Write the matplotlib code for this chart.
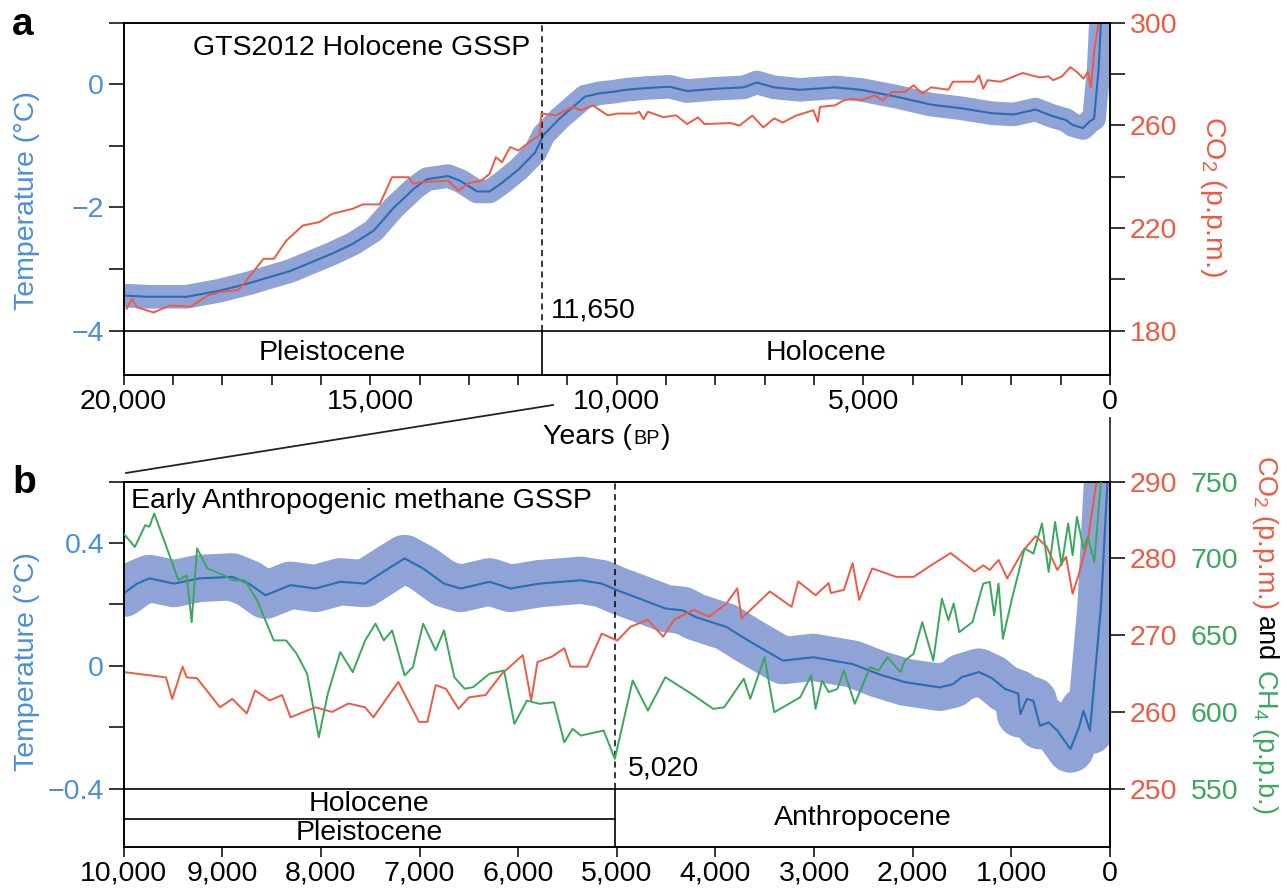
import numpy as np
import matplotlib.pyplot as plt
from matplotlib.lines import Line2D

plt.rcParams['font.family'] = ['Liberation Sans', 'DejaVu Sans']
plt.rcParams['mathtext.default'] = 'regular'

# ---------------- panel a: last 20,000 years ----------------
yrs_temp_a = [20000, 19500, 18721, 18046, 17458, 16616, 15775, 15350, 14935, 14518,
              14092, 13848, 13423, 13167, 12835, 12579, 12328, 11989, 11659, 11484,
              11152, 10645, 10341, 10057, 9816, 9400, 8928, 8577, 8050, 7427,
              7162, 6813, 6286, 5576, 5049, 4339, 3629, 3011, 2393, 1951,
              1511, 1156, 892, 760, 548, 406, 324, 229, 187, 100]
temp_a = [-3.43, -3.45, -3.45, -3.35, -3.23, -3.03, -2.75, -2.59, -2.38, -2.0,
          -1.68, -1.54, -1.49, -1.57, -1.74, -1.74, -1.60, -1.38, -1.11, -0.82,
          -0.55, -0.20, -0.145, -0.12, -0.09, -0.06, -0.04, -0.11, -0.075, -0.05,
          0.03, -0.05, -0.09, -0.05, -0.09, -0.20, -0.33, -0.39, -0.47, -0.49,
          -0.41, -0.52, -0.58, -0.66, -0.71, -0.60, -0.56, 0.26, 0.97, 1.6]

yrs_co2_a = [19939, 19830, 19728, 19393, 19059, 18635, 18298, 18046, 17668, 17458,
             17164, 16953, 16701, 16363, 16028, 15775, 15355, 15146, 14807, 14558,
             14220, 14135, 14011, 13423, 13210, 12999, 12747, 12579, 12452, 12328,
             12165, 11989, 11821, 11570, 11527, 11233, 10896, 10726, 10483, 10341,
             10180, 9988, 9635, 9546, 9457, 9370, 9059, 8796, 8575, 8354,
             8222, 7691, 7515, 7251, 7030, 6809, 6633, 6367, 6014, 5925,
             5880, 5572, 5395, 5219, 5042, 4777, 4603, 4424, 4159, 3982,
             3806, 3629, 3277, 3187, 2745, 2656, 2569, 2482, 2216, 1774,
             1598, 1421, 1245, 1156, 979, 803, 669, 537, 450, 387,
             318, 229, 100]
co2_a = [188.5, 192.4, 189.1, 187.1, 189.8, 189.4, 193.7, 195.0, 195.9, 200.8,
         208.0, 208.0, 215.1, 221.0, 222.3, 225.5, 227.5, 229.2, 229.2, 239.8,
         239.8, 237.2, 237.8, 238.5, 234.6, 237.5, 238.5, 241.1, 247.6, 245.6,
         251.5, 250.2, 252.8, 256.1, 264.6, 263.9, 267.2, 265.9, 267.8, 265.9,
         263.9, 264.6, 264.6, 265.3, 262.4, 265.3, 263.2, 263.9, 260.5, 263.1,
         260.5, 260.9, 259.9, 263.8, 259.2, 262.7, 261.1, 263.8, 265.9, 261.4,
         267.2, 267.8, 269.8, 270.4, 269.8, 271.7, 269.8, 273.0, 273.0, 275.6,
         272.4, 274.8, 273.9, 277.0, 277.0, 279.5, 274.3, 277.6, 277.0, 280.4,
         279.5, 278.7, 279.1, 277.6, 279.0, 282.7, 280.8, 278.2, 280.8, 274.8,
         289.3, 300.0, 330.0]

boundary_a = 11520
label_a = '11,650'

# ---------------- panel b: last 10,000 years ----------------
yrs_temp_b = [10000, 9864, 9739, 9487, 9234, 8898, 8730, 8562, 8309, 8056,
              7804, 7553, 7341, 7151, 6963, 6752, 6583, 6289, 6079, 5785,
              5364, 5153, 4994, 4728, 4508, 4331, 4199, 3890, 3670, 3493,
              3316, 3007, 2609, 2345, 2079, 1727, 1594, 1505, 1329, 1196,
              1065, 932, 909, 843, 777, 710, 622, 534, 401, 314,
              269, 203, 92, 26, 0]
temp_b = [0.236, 0.268, 0.285, 0.268, 0.285, 0.29, 0.268, 0.23, 0.263, 0.252,
          0.274, 0.268, 0.312, 0.35, 0.317, 0.268, 0.252, 0.274, 0.252, 0.268,
          0.279, 0.268, 0.246, 0.214, 0.187, 0.181, 0.159, 0.127, 0.083, 0.05,
          0.017, 0.028, 0.006, -0.027, -0.053, -0.07, -0.06, -0.037, -0.02, -0.04,
          -0.075, -0.09, -0.157, -0.108, -0.114, -0.195, -0.184, -0.211, -0.271, -0.2,
          -0.146, -0.211, 0.192, 0.6, 0.75]

yrs_co2_b = [10000, 9570, 9507, 9402, 9360, 9256, 9023, 8898, 8751, 8667,
             8519, 8393, 8308, 8056, 7887, 7720, 7552, 7468, 7215, 7005,
             6920, 6836, 6731, 6605, 6499, 6331, 6163, 5953, 5868, 5804,
             5658, 5532, 5469, 5301, 5153, 4994, 4861, 4685, 4530, 4420,
             4221, 4066, 3890, 3779, 3735, 3448, 3228, 3161, 2985, 2852,
             2830, 2698, 2609, 2543, 2411, 2168, 1991, 1815, 1616, 1373,
             1285, 1219, 1130, 1042, 887, 755, 645, 534, 446, 379,
             313, 225, 137, 0]
co2_b = [265.2, 264.5, 261.7, 265.9, 264.5, 264.4, 260.6, 261.7, 259.8, 262.8,
         261.5, 262.2, 259.3, 260.6, 260.0, 261.1, 260.6, 259.3, 263.9, 258.7,
         258.7, 263.5, 263.0, 260.4, 261.9, 262.2, 265.0, 267.4, 261.5, 266.5,
         267.2, 268.3, 265.9, 265.9, 270.2, 269.3, 271.1, 272.0, 269.8, 272.0,
         273.3, 272.4, 274.1, 276.1, 272.2, 275.7, 273.7, 277.0, 275.2, 276.8,
         275.5, 275.9, 279.4, 274.6, 278.7, 277.6, 277.6, 279.1, 280.7, 278.3,
         279.1, 278.5, 279.8, 277.4, 280.9, 282.9, 281.6, 278.5, 280.2, 275.4,
         278.1, 282.4, 290.0, 305.0]

yrs_ch4_b = [10000, 9886, 9781, 9739, 9689, 9529, 9445, 9360, 9310, 9255,
             9150, 8981, 8898, 8771, 8646, 8478, 8352, 8246, 8140, 8021,
             7930, 7803, 7677, 7551, 7446, 7362, 7278, 7151, 7067, 6963,
             6836, 6752, 6647, 6542, 6458, 6290, 6143, 6038, 5911, 5785,
             5637, 5532, 5448, 5364, 5133, 5020, 4839, 4685, 4508, 4243,
             4023, 3912, 3713, 3647, 3502, 3404, 3140, 3029, 2985, 2919,
             2852, 2764, 2698, 2587, 2433, 2345, 2256, 2124, 2079, 1991,
             1903, 1792, 1704, 1638, 1585, 1528, 1395, 1285, 1219, 1174,
             1130, 1086, 998, 866, 777, 689, 622, 557, 490, 424,
             379, 335, 269, 225, 159, 92, 0]
ch4_b = [716.2, 707.5, 721.7, 720.6, 729.3, 701.0, 685.8, 689.0, 658.5, 706.5,
         693.4, 689.0, 685.8, 685.8, 672.7, 646.6, 646.6, 637.9, 624.9, 583.5,
         611.8, 639.0, 625.9, 646.6, 657.5, 646.6, 653.1, 623.8, 629.2, 657.5,
         640.1, 653.1, 622.6, 615.1, 616.1, 624.9, 627.0, 592.2, 607.4, 605.3,
         606.3, 580.2, 589.0, 584.6, 587.9, 569.4, 620.5, 600.9, 622.6, 611.8,
         602.0, 603.0, 621.6, 608.6, 635.7, 599.8, 609.6, 623.8, 602.0, 620.5,
         612.9, 615.0, 627.0, 605.3, 629.2, 627.0, 635.7, 625.9, 633.5, 637.9,
         658.5, 633.5, 673.8, 659.7, 670.6, 652.0, 658.5, 683.6, 684.7, 662.9,
         683.6, 647.7, 672.7, 706.5, 703.2, 722.8, 691.2, 723.8, 695.6, 722.8,
         702.1, 727.1, 706.5, 714.0, 697.7, 750.0, 850.0]

boundary_b = 5020
label_b = '5,020'

# colours
BLUE_TXT = '#4a8fd8'
BLUE = '#2b6cb5'
BAND = '#8fa3d6'
RED = '#ee5a43'
GREEN = '#3aa85c'
FS = 20.5

W, H = 1283, 889
fig = plt.figure(figsize=(W / 100, H / 100), dpi=100)


def fx(px):
    return px / W


def fy(py):
    return 1 - py / H


def style_axes(ax):
    for s in ax.spines.values():
        s.set_linewidth(1.2)
    ax.tick_params(axis='x', direction='out', length=7, width=1.1, pad=3, labelsize=FS)
    ax.tick_params(axis='y', direction='out', length=11, width=1.1, pad=3, labelsize=FS,
                   labelcolor=BLUE_TXT)


def commas(vals, every):
    return [f'{v:,}' if v % every == 0 else '' for v in vals]


# ======================= panel a =======================
ax = fig.add_axes([fx(123.6), fy(375), fx(1110) - fx(123.6), fy(22.7) - fy(375)])
t_lo, t_hi = -4.72, 1.0
ax.set_xlim(20000, 0)
ax.set_ylim(t_lo, t_hi)
style_axes(ax)
ax.plot(yrs_temp_a, temp_a, color=BAND, lw=17, solid_capstyle='round', solid_joinstyle='round')
ax.plot(yrs_temp_a, temp_a, color=BLUE, lw=1.5)
xt = list(range(0, 20001, 1000))
ax.set_xticks(xt)
ax.set_xticklabels(commas(xt, 5000))
ax.set_yticks([-4, -3, -2, -1, 0, 1])
ax.set_yticklabels(['\u22124', '', '\u22122', '', '0', ''])

ax.axhline(-4, color='k', lw=1.2)
ax.plot([boundary_a, boundary_a], [t_lo, -4], color='k', lw=1.2)
ax.plot([boundary_a, boundary_a], [-4, t_hi], color='k', lw=1.1, ls=(0, (4, 3)))
ax.text(11760, 0.48, 'GTS2012 Holocene GSSP', fontsize=FS, ha='right', va='baseline')
ax.text(11330, -3.67, label_a, fontsize=FS, ha='left', va='center')
ax.text((20000 + boundary_a) / 2, -4.36, 'Pleistocene', fontsize=FS, ha='center', va='center')
ax.text(boundary_a / 2, -4.36, 'Holocene', fontsize=FS, ha='center', va='center')

ax2 = ax.twinx()
ax2.set_ylim(180 + (t_lo + 4) * 24, 180 + (t_hi + 4) * 24)
ax2.plot(yrs_co2_a, co2_a, color=RED, lw=1.4)
ax2.set_yticks([180, 200, 220, 240, 260, 280, 300])
ax2.set_yticklabels(['180', '', '220', '', '260', '', '300'])
style_axes(ax2)
ax2.tick_params(axis='y', labelcolor=RED)

fig.text(fx(27), fy(201), 'Temperature (\u00b0C)', color=BLUE_TXT, fontsize=FS,
         rotation=90, ha='center', va='center')
fig.text(fx(1213), fy(197), 'CO$_2$ (p.p.m.)', color=RED, fontsize=FS,
         rotation=270, ha='center', va='center')
fig.text(fx(12), fy(35), 'a', fontsize=28, fontweight='bold', ha='left', va='baseline')

# ======================= panel b =======================
bx = fig.add_axes([fx(123.6), fy(847), fx(1110) - fx(123.6), fy(481.7) - fy(847)])
b_lo, b_hi = -0.59, 0.6
bx.set_xlim(10000, 0)
bx.set_ylim(b_lo, b_hi)
style_axes(bx)
bx.plot(yrs_temp_b, temp_b, color=BAND, lw=34, solid_capstyle='round', solid_joinstyle='round')
bx.plot(yrs_temp_b, temp_b, color=BLUE, lw=1.5)
xt = list(range(0, 10001, 1000))
bx.set_xticks(xt)
bx.set_xticklabels(commas(xt, 1000))
bx.set_yticks([-0.4, -0.2, 0, 0.2, 0.4, 0.6])
bx.set_yticklabels(['\u22120.4', '', '0', '', '0.4', ''])

bx.axhline(-0.4, color='k', lw=1.2)
bx.plot([10000, boundary_b], [-0.5, -0.5], color='k', lw=1.2)
bx.plot([boundary_b, boundary_b], [b_lo, -0.4], color='k', lw=1.2)
bx.plot([boundary_b, boundary_b], [-0.4, b_hi], color='k', lw=1.1, ls=(0, (4, 3)))
bx.text(9925, 0.514, 'Early Anthropogenic methane GSSP', fontsize=FS, ha='left', va='baseline')
bx.text(4886, -0.335, label_b, fontsize=FS, ha='left', va='center')
bx.text((10000 + boundary_b) / 2, -0.45, 'Holocene', fontsize=FS, ha='center', va='center')
bx.text((10000 + boundary_b) / 2, -0.545, 'Pleistocene', fontsize=FS, ha='center', va='center')
bx.text(boundary_b / 2, -0.495, 'Anthropocene', fontsize=FS, ha='center', va='center')

bx2 = bx.twinx()
bx2.set_ylim(266 + 40 * b_lo, 266 + 40 * b_hi)
bx2.plot(yrs_co2_b, co2_b, color=RED, lw=1.4)
bx2.set_yticks([250, 260, 270, 280, 290])
style_axes(bx2)
bx2.tick_params(axis='y', labelcolor=RED)

bx3 = bx.twinx()
bx3.set_ylim(550 + (b_lo + 0.4) * 200, 550 + (b_hi + 0.4) * 200)
bx3.plot(yrs_ch4_b, ch4_b, color=GREEN, lw=1.4)
bx3.set_yticks([550, 600, 650, 700, 750])
for s in bx3.spines.values():
    s.set_visible(False)
bx3.tick_params(axis='y', length=0, pad=58, labelsize=FS, labelcolor=GREEN)

fig.text(fx(27), fy(662), 'Temperature (\u00b0C)', color=BLUE_TXT, fontsize=FS,
         rotation=90, ha='center', va='center')
fig.text(fx(12), fy(493), 'b', fontsize=28, fontweight='bold', ha='left', va='baseline')

# connector between the panels
fig.add_artist(Line2D([fx(553), fx(126)], [fy(405), fy(473)], color='#222222', lw=1.3))
fig.add_artist(Line2D([fx(1110), fx(1110)], [fy(418), fy(482)], color='#222222', lw=1.2))

# multi-part labels
renderer = fig.canvas.get_renderer()
pxpt = 100 / 72

# "Years (BP)" with small caps BP
x = 543
parts = [('Years (', FS), ('BP', FS * 0.7), (')', FS)]
for s, size in parts:
    t = fig.text(fx(x), fy(444), s, fontsize=size, ha='left', va='baseline')
    x += t.get_window_extent(renderer).width + 1

# right label of panel b, read top to bottom
RFS = 19.5
y = 455
gap = RFS * 0.28 * pxpt
for s, c in [('CO$_2$ (p.p.m.)', RED), ('and', 'black'), ('CH$_4$ (p.p.b.)', GREEN)]:
    t = fig.text(fx(1258), fy(y), s, color=c, fontsize=RFS, rotation=270,
                 rotation_mode='anchor', ha='left', va='baseline')
    y += t.get_window_extent(renderer).height + gap

fig.savefig('out.png', dpi=100)
